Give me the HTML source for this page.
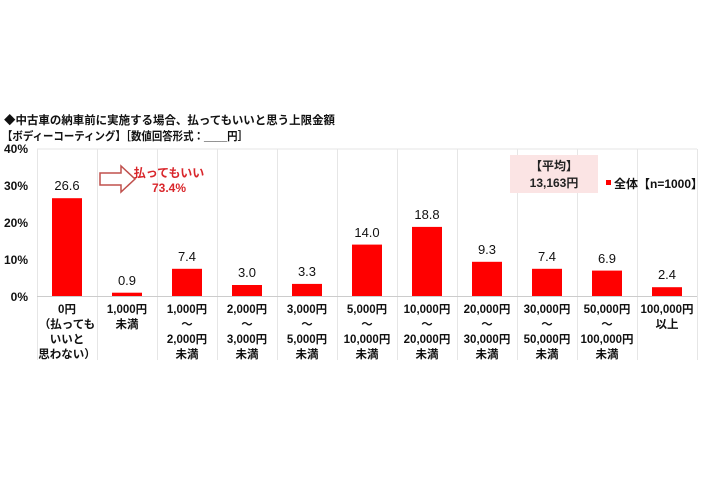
<!DOCTYPE html><html><head><meta charset="utf-8"><style>
body{margin:0;background:#fff;}
svg text{font-family:"Liberation Sans","Noto Sans CJK JP",sans-serif;font-weight:bold;}
svg .n text{font-weight:normal;}
</style></head><body>
<svg width="710" height="474" viewBox="0 0 710 474" xmlns="http://www.w3.org/2000/svg">
<rect width="710" height="474" fill="#fff"/>
<text x="4" y="124" font-size="11.5" fill="#111" textLength="331" lengthAdjust="spacingAndGlyphs">◆中古車の納車前に実施する場合、払ってもいいと思う上限金額</text>
<text x="2" y="140" font-size="11.5" fill="#111" textLength="246" lengthAdjust="spacingAndGlyphs">【ボディーコーティング】［数値回答形式：____円］</text>
<g font-size="12" fill="#111" text-anchor="end">
<text x="28" y="153">40%</text><text x="28" y="190">30%</text><text x="28" y="227">20%</text><text x="28" y="264">10%</text><text x="28" y="301">0%</text>
</g>
<g stroke="#e6e6e6" stroke-width="1">
<line x1="37" y1="149" x2="697" y2="149"/>
<line x1="37.5" y1="149" x2="37.5" y2="360"/><line x1="97.5" y1="149" x2="97.5" y2="360"/><line x1="157.5" y1="149" x2="157.5" y2="360"/><line x1="217.5" y1="149" x2="217.5" y2="360"/><line x1="277.5" y1="149" x2="277.5" y2="360"/><line x1="337.5" y1="149" x2="337.5" y2="360"/><line x1="397.5" y1="149" x2="397.5" y2="360"/><line x1="457.5" y1="149" x2="457.5" y2="360"/><line x1="517.5" y1="149" x2="517.5" y2="360"/><line x1="577.5" y1="149" x2="577.5" y2="360"/><line x1="637.5" y1="149" x2="637.5" y2="360"/><line x1="697.5" y1="149" x2="697.5" y2="360"/>
</g>
<line x1="37" y1="296.5" x2="697" y2="296.5" stroke="#ccc"/>
<rect x="510" y="155" width="88" height="38" fill="#fbe4e4"/>
<text x="554" y="170" font-size="12" fill="#222" text-anchor="middle">【平均】</text>
<text x="554" y="187" font-size="12" fill="#222" text-anchor="middle">13,163円</text>
<rect x="606" y="180" width="5" height="5" fill="#f00"/>
<text x="614" y="188" font-size="12" fill="#111">全体【n=1000】</text>
<path d="M100,173 H121 V166 L135,179 L121,192 V185 H100 Z" fill="#fff" stroke="#c0504d" stroke-width="1.5"/>
<text x="169" y="177" font-size="12" fill="#d9262b" text-anchor="middle">払ってもいい</text>
<text x="169" y="192" font-size="12" fill="#d9262b" text-anchor="middle">73.4%</text>
<g fill="#f00">
<rect x="52" y="198.2" width="30" height="97.8"/>
<rect x="112" y="292.7" width="30" height="3.3"/>
<rect x="172" y="268.8" width="30" height="27.2"/>
<rect x="232" y="285" width="30" height="11"/>
<rect x="292" y="283.9" width="30" height="12.1"/>
<rect x="352" y="244.6" width="30" height="51.4"/>
<rect x="412" y="226.9" width="30" height="69.1"/>
<rect x="472" y="261.8" width="30" height="34.2"/>
<rect x="532" y="268.8" width="30" height="27.2"/>
<rect x="592" y="270.6" width="30" height="25.4"/>
<rect x="652" y="287.2" width="30" height="8.8"/>
</g>
<g class="n" font-size="13" fill="#111" text-anchor="middle">
<text x="67" y="190">26.6</text><text x="127" y="285">0.9</text><text x="187" y="261">7.4</text><text x="247" y="277">3.0</text><text x="307" y="276">3.3</text><text x="367" y="237">14.0</text><text x="427" y="219">18.8</text><text x="487" y="254">9.3</text><text x="547" y="261">7.4</text><text x="607" y="263">6.9</text><text x="667" y="279">2.4</text>
</g>
<g font-size="11.5" fill="#111" text-anchor="middle">
<text x="67" y="313">0円</text><text x="67" y="328">（払っても</text><text x="67" y="343">いいと</text><text x="67" y="358">思わない）</text>
<text x="127" y="313">1,000円</text><text x="127" y="328">未満</text>
<text x="187" y="313">1,000円</text><text x="187" y="328">～</text><text x="187" y="343">2,000円</text><text x="187" y="358">未満</text>
<text x="247" y="313">2,000円</text><text x="247" y="328">～</text><text x="247" y="343">3,000円</text><text x="247" y="358">未満</text>
<text x="307" y="313">3,000円</text><text x="307" y="328">～</text><text x="307" y="343">5,000円</text><text x="307" y="358">未満</text>
<text x="367" y="313">5,000円</text><text x="367" y="328">～</text><text x="367" y="343">10,000円</text><text x="367" y="358">未満</text>
<text x="427" y="313">10,000円</text><text x="427" y="328">～</text><text x="427" y="343">20,000円</text><text x="427" y="358">未満</text>
<text x="487" y="313">20,000円</text><text x="487" y="328">～</text><text x="487" y="343">30,000円</text><text x="487" y="358">未満</text>
<text x="547" y="313">30,000円</text><text x="547" y="328">～</text><text x="547" y="343">50,000円</text><text x="547" y="358">未満</text>
<text x="607" y="313">50,000円</text><text x="607" y="328">～</text><text x="607" y="343">100,000円</text><text x="607" y="358">未満</text>
<text x="667" y="313">100,000円</text><text x="667" y="328">以上</text>
</g>
</svg>
</body></html>
